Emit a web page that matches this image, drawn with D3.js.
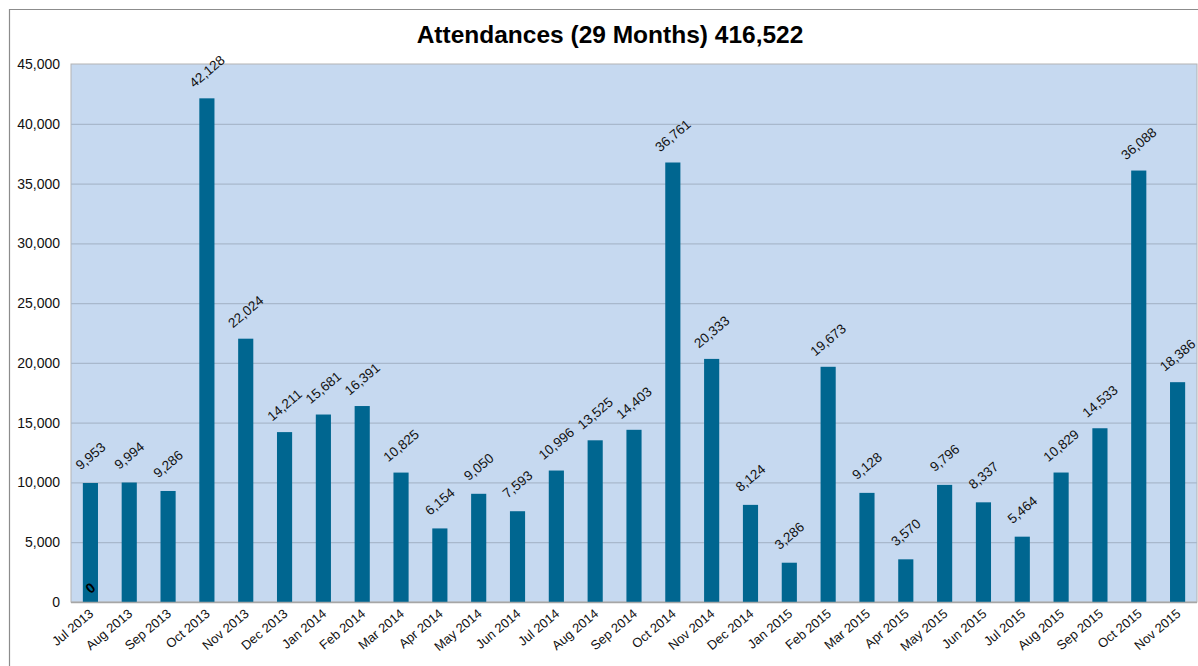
<!DOCTYPE html>
<html><head><meta charset="utf-8">
<script src="https://cdn.jsdelivr.net/npm/d3@7"></script>
<style>body{margin:0;background:#fff}svg{display:block;font-family:"Liberation Sans",Arial,sans-serif}</style>
</head><body><svg id="c" width="1198" height="666"></svg>
<script>
const months = ["Jul 2013","Aug 2013","Sep 2013","Oct 2013","Nov 2013","Dec 2013","Jan 2014","Feb 2014","Mar 2014","Apr 2014","May 2014","Jun 2014","Jul 2014","Aug 2014","Sep 2014","Oct 2014","Nov 2014","Dec 2014","Jan 2015","Feb 2015","Mar 2015","Apr 2015","May 2015","Jun 2015","Jul 2015","Aug 2015","Sep 2015","Oct 2015","Nov 2015"];
const attendances = [9953,9994,9286,42128,22024,14211,15681,16391,10825,6154,9050,7593,10996,13525,14403,36761,20333,8124,3286,19673,9128,3570,9796,8337,5464,10829,14533,36088,18386];
const zeroSeries = [0];
const yTicks = [0,5000,10000,15000,20000,25000,30000,35000,40000,45000];
const title = "Attendances (29 Months) 416,522";

const svg = d3.select("#c");
const L=71,R=1197,T=64,B=602;
svg.append("path").attr("d",`M9.5,666 V9.5 H1198`).attr("fill","none").attr("stroke","#8c8c8c").attr("stroke-width",1.2);
svg.append("text").attr("x",610).attr("y",43).attr("text-anchor","middle").attr("font-size",24.5).attr("font-weight","bold").text(title);

const x = d3.scaleBand().domain(months).range([L,R]).paddingInner(0.61).paddingOuter(0.305);
const y = d3.scaleLinear().domain([0,45000]).range([B,T]);

svg.append("rect").attr("x",L).attr("y",T).attr("width",R-L).attr("height",B-T).attr("fill","#c6d9f0").attr("stroke","#b3b3b3");
svg.append("g").selectAll("line").data(yTicks.filter(d=>d>0&&d<45000)).join("line")
  .attr("x1",L).attr("x2",R).attr("y1",d=>y(d)+0.5).attr("y2",d=>y(d)+0.5).attr("stroke","#a8b8cc").attr("stroke-width",1.3);

svg.append("g").selectAll("rect").data(attendances).join("rect")
  .attr("x",(d,i)=>x(months[i])).attr("width",x.bandwidth())
  .attr("y",d=>y(d)).attr("height",d=>B-y(d)).attr("fill","#006690");

svg.append("line").attr("x1",L).attr("x2",R).attr("y1",B+0.5).attr("y2",B+0.5).attr("stroke","#a6a6a6").attr("stroke-width",1.5);

const ya = svg.append("g").attr("transform",`translate(${L},0)`).call(d3.axisLeft(y).tickValues(yTicks).tickSize(0).tickPadding(11).tickFormat(d3.format(",")));
ya.select(".domain").remove();
ya.selectAll("text").attr("font-size",14).attr("fill","#111").style("font-family","Liberation Sans, Arial, sans-serif");

const xa = svg.append("g").attr("transform",`translate(0,${B})`).call(d3.axisBottom(x).tickSize(0));
xa.select(".domain").remove();
xa.selectAll("text").attr("font-size",13).attr("fill","#111").style("font-family","Liberation Sans, Arial, sans-serif")
  .attr("text-anchor","end").attr("dy",0).attr("y",0)
  .attr("transform","translate(4,13) rotate(-40)");

svg.append("g").selectAll("text").data(attendances).join("text")
  .attr("transform",(d,i)=>`translate(${x(months[i])+x.bandwidth()/2},${y(d)-27}) rotate(-40)`)
  .attr("text-anchor","middle").attr("dy","0.35em").attr("font-size",13.5).attr("fill","#111").text(d=>d3.format(",")(d));

svg.append("g").selectAll("text").data(zeroSeries).join("text")
  .attr("transform",(d,i)=>`translate(${x(months[i])+x.bandwidth()/2},${y(d)-14}) rotate(-40)`)
  .attr("text-anchor","middle").attr("dy","0.35em").attr("font-size",14).attr("font-weight","bold").attr("fill","#000").text(d=>d);
</script></body></html>
